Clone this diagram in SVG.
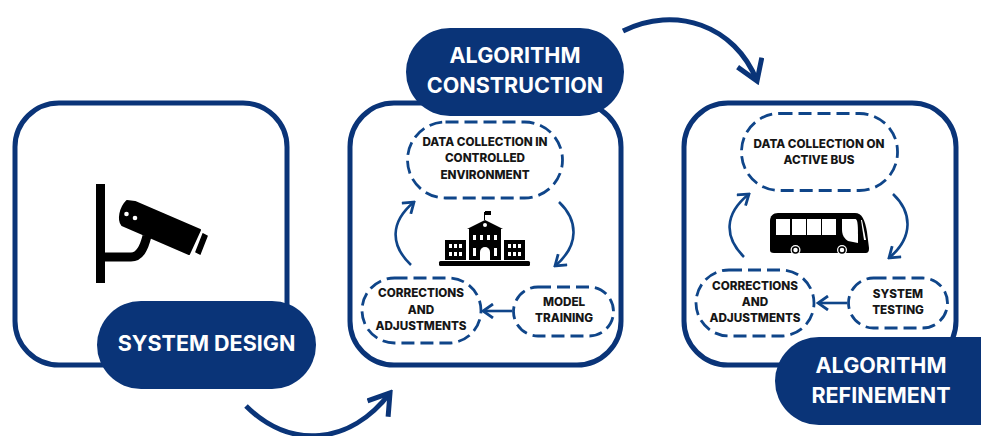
<svg xmlns="http://www.w3.org/2000/svg" width="981" height="436" viewBox="0 0 981 436">
<style>
.box{fill:#fff;stroke:#0a3478;stroke-width:5}
.pill{fill:#0a3478}
.dash{fill:#fff;stroke:#0f4589;stroke-width:2.8;stroke-dasharray:13 6}
.conn{fill:none;stroke:#0f4589;stroke-width:2.6}
.big{fill:none;stroke:#0a3478;stroke-width:5}
text{font-family:"Inter","Liberation Sans",sans-serif;font-weight:800;text-anchor:middle}
.t{font-size:11.7px;fill:#161616}
.h{font-size:21.5px;font-weight:700;fill:#fff}
.w{fill:#fff}
</style>
<defs>
<marker id="a" viewBox="0 0 14 16" refX="12" refY="8" markerWidth="14" markerHeight="16" markerUnits="userSpaceOnUse" orient="auto"><path d="M2 1L12 8L2 15" fill="none" stroke="#0f4589" stroke-width="2.8"/></marker>
<marker id="b" viewBox="0 0 30 30" refX="26" refY="15" markerWidth="30" markerHeight="30" markerUnits="userSpaceOnUse" orient="auto"><path d="M6 2L26 15L6 28" fill="none" stroke="#0a3478" stroke-width="5"/></marker>
</defs>
<g id="connectors">
<path class="big" d="M623 31C675 5 735 25 757 81" marker-end="url(#b)"/>
<path class="big" d="M246 406C290 450 350 445 390 393" marker-end="url(#b)"/>
</g>
<g id="system-design">
<rect class="box" x="15" y="103" width="272" height="262" rx="44"/>
<g id="camera">
<rect x="96" y="184" width="9" height="99"/>
<path d="M105 257H131C140 257 144 248 147 236" fill="none" stroke="#000" stroke-width="9"/>
<path d="M127 201C120 208 118 220 122 225L189 254L200 230L135 202Z" stroke="#000" stroke-width="2" stroke-linejoin="round"/>
<circle class="w" cx="126.500" cy="214" r="2.300"/><circle class="w" cx="135" cy="218" r="2.300"/>
<path d="M203 234L207 236L200 254L196 252Z" stroke="#000" stroke-width="1.500"/>
</g>
<rect class="pill" x="97" y="301" width="219" height="88" rx="44"/>
<text class="h" x="206.500" y="351">SYSTEM DESIGN</text>
</g>
<g id="algorithm-construction">
<rect class="box" x="350" y="103" width="271" height="262" rx="44"/>
<rect class="pill" x="406" y="28" width="218" height="88" rx="44"/>
<text class="h" x="515" y="63">ALGORITHM</text>
<text class="h" x="515" y="93">CONSTRUCTION</text>
<g id="data-collection-controlled">
<rect class="dash" x="407.500" y="122" width="155" height="76" rx="38"/>
<text class="t" x="485" y="146">DATA COLLECTION IN</text>
<text class="t" x="485" y="162">CONTROLLED</text>
<text class="t" x="485" y="179">ENVIRONMENT</text>
</g>
<g id="corrections-1">
<rect class="dash" x="362" y="278" width="119" height="65" rx="32.500"/>
<text class="t" x="421" y="297">CORRECTIONS</text>
<text class="t" x="421" y="314">AND</text>
<text class="t" x="421" y="330">ADJUSTMENTS</text>
</g>
<g id="model-training">
<rect class="dash" x="513.500" y="287" width="100" height="49" rx="24.500"/>
<text class="t" x="564" y="306">MODEL</text>
<text class="t" x="564" y="322">TRAINING</text>
</g>
<path class="conn" d="M559 202C578 220 580 245 555 266" marker-end="url(#a)"/>
<path class="conn" d="M411 265C390 245 390 222 414 202" marker-end="url(#a)"/>
<path class="conn" d="M512 311H483" marker-end="url(#a)"/>
<g id="school">
<rect x="439" y="261" width="91" height="5" rx="1.500"/>
<rect x="445" y="240" width="21" height="20"/>
<rect x="504" y="240" width="21" height="20"/>
<rect x="469" y="229" width="32" height="31"/>
<path d="M467 229L485 220L503 229Z"/>
<path d="M484.500 220V212" stroke="#000" stroke-width="1"/>
<path d="M485 211H491V215H485Z"/>
<path class="w" d="M480 260V252A5 5 0 0 1 490 252V260Z"/>
<g class="w">
<rect x="449" y="244" width="3" height="4"/><rect x="454" y="244" width="3" height="4"/><rect x="459" y="244" width="3" height="4"/>
<rect x="449" y="252" width="3" height="4"/><rect x="454" y="252" width="3" height="4"/><rect x="459" y="252" width="3" height="4"/>
<rect x="508" y="244" width="3" height="4"/><rect x="513" y="244" width="3" height="4"/><rect x="518" y="244" width="3" height="4"/>
<rect x="508" y="252" width="3" height="4"/><rect x="513" y="252" width="3" height="4"/><rect x="518" y="252" width="3" height="4"/>
<rect x="473" y="235" width="3" height="5"/><rect x="480" y="235" width="3" height="5"/><rect x="487" y="235" width="3" height="5"/><rect x="494" y="235" width="3" height="5"/>
<rect x="473" y="248" width="3" height="8"/><rect x="494" y="248" width="3" height="8"/>
<circle cx="485" cy="225" r="2"/>
</g>
</g>
</g>
<g id="algorithm-refinement">
<rect class="box" x="684" y="103" width="272" height="262" rx="44"/>
<rect class="pill" x="775" y="337" width="250" height="88" rx="44"/>
<text class="h" x="881" y="373">ALGORITHM</text>
<text class="h" x="881" y="403">REFINEMENT</text>
<g id="data-collection-bus">
<rect class="dash" x="741.500" y="113.500" width="156" height="77" rx="38"/>
<text class="t" x="819" y="148">DATA COLLECTION ON</text>
<text class="t" x="819" y="164">ACTIVE BUS</text>
</g>
<g id="corrections-2">
<rect class="dash" x="696" y="270" width="118" height="66" rx="33"/>
<text class="t" x="755" y="290">CORRECTIONS</text>
<text class="t" x="755" y="306">AND</text>
<text class="t" x="755" y="322">ADJUSTMENTS</text>
</g>
<g id="system-testing">
<rect class="dash" x="848.500" y="278" width="99" height="50" rx="25"/>
<text class="t" x="898" y="298">SYSTEM</text>
<text class="t" x="898" y="314">TESTING</text>
</g>
<path class="conn" d="M893 194C912 212 914 237 889 258" marker-end="url(#a)"/>
<path class="conn" d="M744 257C724 237 724 214 749 194" marker-end="url(#a)"/>
<path class="conn" d="M847 303H818" marker-end="url(#a)"/>
<g id="bus">
<path d="M778 213H855C862 213 865 220 867 232L869 248C869 252 868 253 865 253H774C771 253 770 252 770 250V221C770 216 773 213 778 213Z"/>
<g class="w">
<rect x="776" y="219" width="14" height="16"/><rect x="792" y="219" width="14" height="16"/><rect x="807" y="219" width="14" height="16"/><rect x="822" y="219" width="14" height="16"/>
<path d="M842 219H855C858 219 858 225 858 243L848 241C842 237 842 232 842 228Z"/>
<path d="M862 220L866 240L864 240L861 220Z"/>
<circle cx="795.500" cy="250" r="5"/><circle cx="842" cy="250" r="5"/>
</g>
<circle cx="795.500" cy="250" r="3" fill="none" stroke="#000" stroke-width="1.500"/><circle cx="842" cy="250" r="3" fill="none" stroke="#000" stroke-width="1.500"/>
</g>
</g>
</svg>
